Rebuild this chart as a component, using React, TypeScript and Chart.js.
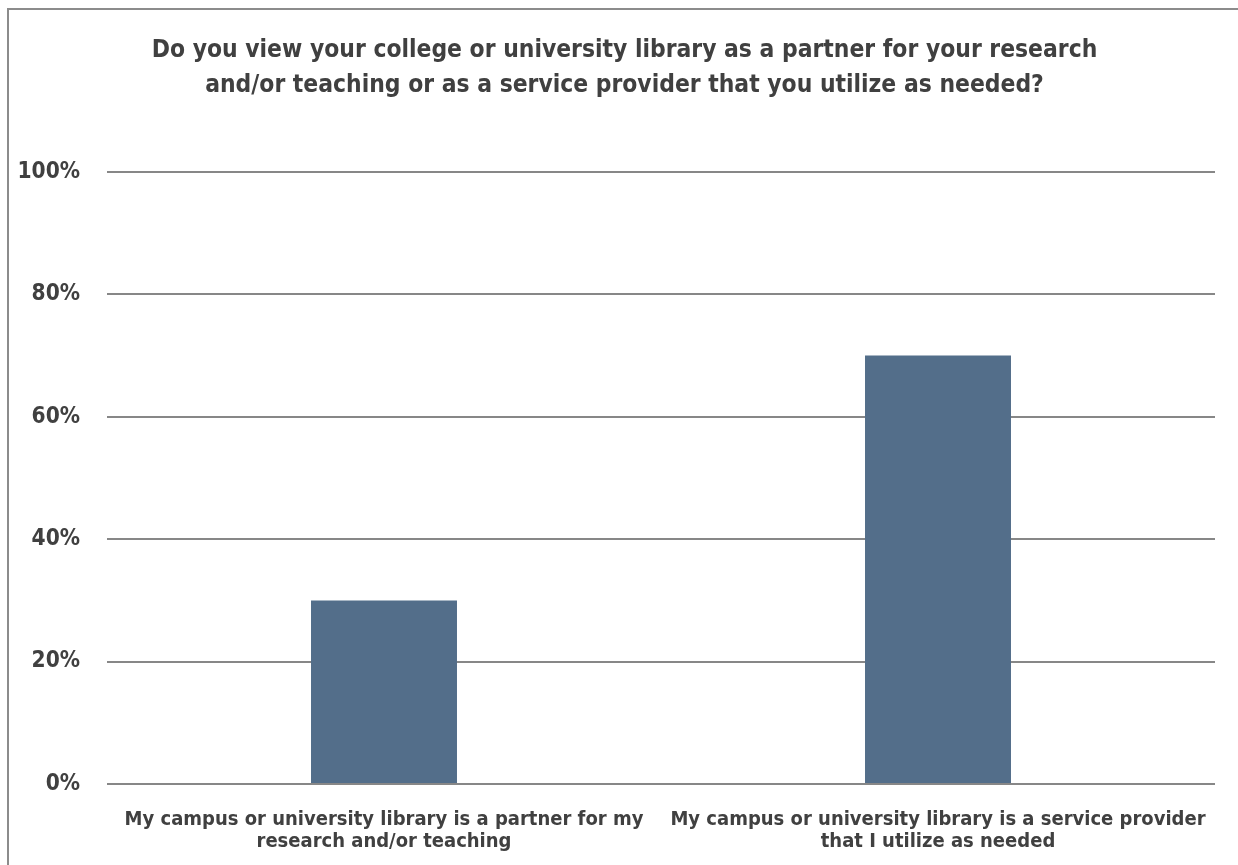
import React, { useEffect, useRef } from "react";
import { Chart, registerables } from "chart.js";

Chart.register(...registerables);

const titleLines = [
  "Do you view your college or university library as a partner for your research",
  "and/or teaching or as a service provider that you utilize as needed?",
];
const categories = [
  ["My campus or university library is a partner for my", "research and/or teaching"],
  ["My campus or university library is a service provider", "that I utilize as needed"],
];
const values = [30, 70];
const yTicks = [0, 20, 40, 60, 80, 100];

const FONT = "'DejaVu Sans Condensed', 'Liberation Sans Narrow', 'Arial Narrow', sans-serif";
const TEXT = "#404040";
const GRID = "#878787";
const BAR = "#536E8A";

const titleShift = {
  id: "titleShift",
  afterLayout(chart: any) {
    if (chart.titleBlock) {
      chart.titleBlock.left += 12.5;
      chart.titleBlock.right += 12.5;
    }
  },
};

export default function App() {
  const ref = useRef<HTMLCanvasElement>(null);
  useEffect(() => {
    const canvas = ref.current!;
    const chart = new Chart(canvas, {
      type: "bar",
      data: {
        labels: categories,
        datasets: [
          {
            data: values,
            backgroundColor: BAR,
            barPercentage: 0.2635,
            categoryPercentage: 1,
          },
        ],
      },
      plugins: [titleShift],
      options: {
        responsive: false,
        animation: false,
        layout: { padding: { left: 0, right: 25, top: 0, bottom: 0 } },
        plugins: {
          legend: { display: false },
          tooltip: { enabled: false },
          title: {
            display: true,
            text: titleLines,
            color: TEXT,
            font: { family: FONT, size: 24.4, weight: "bold", lineHeight: 35 / 24.4 },
            padding: { top: 23, bottom: 69 },
          },
        },
        scales: {
          x: {
            grid: { display: false, drawTicks: false },
            border: { display: false },
            ticks: {
              color: TEXT,
              font: { family: FONT, size: 20, weight: "bold", lineHeight: 1.1 },
              padding: 25,
              maxRotation: 0,
              autoSkip: false,
            },
            afterFit: (s: any) => {
              s.height = 96;
              s.paddingLeft = 0;
              s.paddingRight = 0;
            },
          },
          y: {
            min: 0,
            max: 100,
            afterBuildTicks: (s: any) => {
              s.ticks = yTicks.map((v) => ({ value: v }));
            },
            grid: { color: GRID, lineWidth: 2, drawTicks: false },
            border: { display: false },
            ticks: {
              color: TEXT,
              font: { family: FONT, size: 22.5, weight: "bold" },
              padding: 27,
              callback: (v: any) => v + "%",
            },
            afterFit: (s: any) => {
              s.width = 98;
              s.paddingTop = 0;
              s.paddingBottom = 0;
            },
          },
        },
      },
    });
    return () => chart.destroy();
  }, []);
  return (
    <div
      style={{
        position: "fixed",
        left: 7,
        top: 8,
        width: 1300,
        height: 900,
        border: "2px solid #8c8c8c",
        background: "#fff",
      }}
    >
      <canvas ref={ref} width={1231} height={870} style={{ display: "block", width: 1231, height: 870 }} />
    </div>
  );
}
